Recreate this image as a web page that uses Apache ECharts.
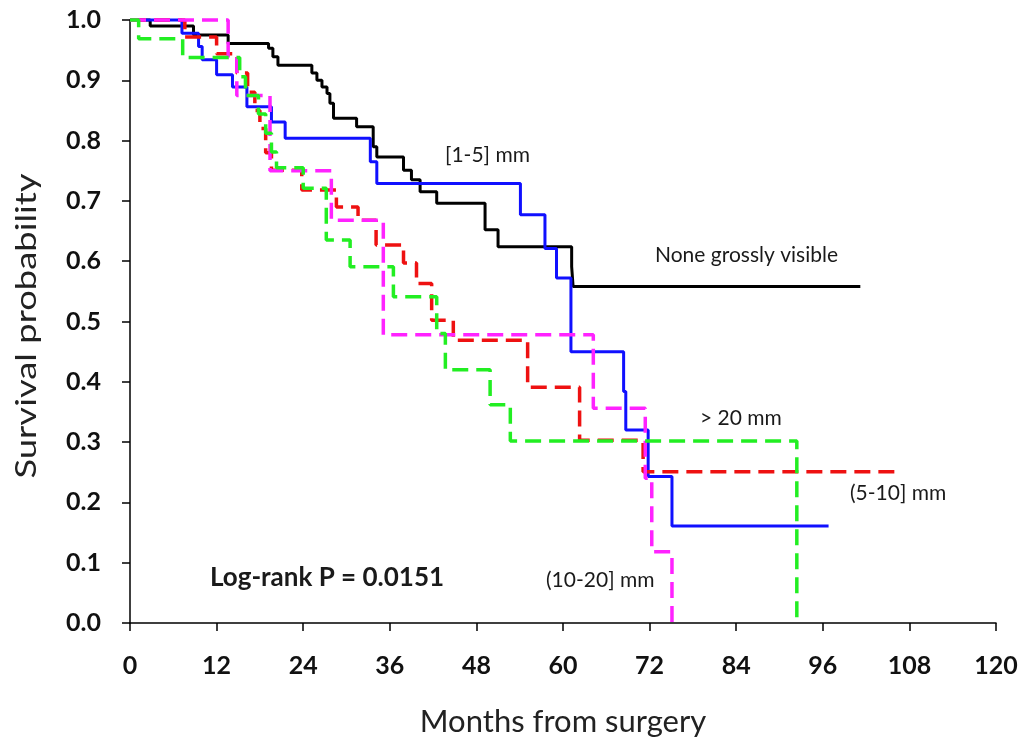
<!DOCTYPE html>
<html>
<head>
<meta charset="utf-8">
<script src="https://cdn.jsdelivr.net/npm/echarts@6/dist/echarts.min.js"></script>
<style>
    html, body { margin: 0; padding: 0; background: #fff; }
    #chart { width: 1024px; height: 747px; }
</style>
</head>
<body>
<div id="chart"></div>
<script>
// Kaplan-Meier steps: time (months) where survival drops, and new survival value
var noneMonths  = [0, 2.8, 8.8, 13.6, 19.2, 19.8, 20.5, 25.2, 25.9, 26.6, 27.3, 27.7, 28.2, 31.4, 33.7, 34.2, 37.9, 39.0, 40.2, 42.5, 49.2, 51.0, 61.2, 61.4, 101.2];
var noneSurv    = [1.0, 0.99, 0.975, 0.961, 0.953, 0.939, 0.925, 0.912, 0.9, 0.889, 0.878, 0.862, 0.837, 0.823, 0.79, 0.773, 0.751, 0.735, 0.715, 0.696, 0.652, 0.624, 0.591, 0.558, 0.558];

var mm1to5Months = [0, 7.2, 9.5, 10.0, 12.0, 14.2, 16.2, 19.6, 21.5, 33.3, 34.2, 54.1, 57.5, 59.1, 61.1, 68.4, 68.7, 71.8, 75.1, 96.8];
var mm1to5Surv   = [1.0, 0.978, 0.956, 0.934, 0.909, 0.889, 0.856, 0.831, 0.804, 0.765, 0.729, 0.677, 0.621, 0.572, 0.45, 0.384, 0.32, 0.243, 0.161, 0.161];

var mm5to10Months = [0, 7.6, 12.0, 14.8, 16.3, 17.3, 18.0, 18.8, 19.6, 23.8, 28.6, 31.6, 34.1, 37.9, 39.7, 41.8, 44.8, 55.1, 62.3, 71.1, 106.5];
var mm5to10Surv   = [1.0, 0.972, 0.944, 0.912, 0.88, 0.85, 0.82, 0.78, 0.751, 0.718, 0.69, 0.668, 0.627, 0.597, 0.563, 0.502, 0.469, 0.391, 0.303, 0.251, 0.251];

var mm10to20Months = [0, 13.6, 14.8, 19.4, 27.9, 35.1, 64.2, 71.4, 72.3, 75.1];
var mm10to20Surv   = [1.0, 0.938, 0.875, 0.75, 0.668, 0.478, 0.356, 0.24, 0.118, 0.0];

var over20Months = [0, 1.2, 7.3, 15.2, 16.0, 17.8, 18.8, 19.6, 20.3, 24.0, 27.2, 30.5, 36.5, 42.5, 43.7, 49.9, 52.7, 92.4];
var over20Surv   = [1.0, 0.969, 0.938, 0.906, 0.875, 0.844, 0.812, 0.781, 0.755, 0.721, 0.635, 0.591, 0.541, 0.48, 0.42, 0.362, 0.302, 0.0];

var FONT = 'Lato, "Open Sans", sans-serif';

function pairs(t, s) {
    var out = [];
    for (var i = 0; i < t.length; i++) out.push([t[i], s[i]]);
    return out;
}

function kmSeries(name, t, s, color, dashed) {
    return {
        name: name,
        type: 'line',
        step: 'end',
        symbol: 'none',
        clip: false,
        data: pairs(t, s),
        lineStyle: {
            color: color,
            width: dashed ? 3.5 : 3,
            type: dashed ? [16, 8] : 'solid'
        }
    };
}

// small helper for the text labels drawn next to the curves
function label(text, x, y, font) {
    return {
        type: 'text', x: x, y: y,
        style: {
            text: text, font: font, fill: '#1a1a1a',
            align: 'left', verticalAlign: 'middle',
            textAlign: 'left', textVerticalAlign: 'middle'
        }
    };
}

var myChart = echarts.init(document.getElementById('chart'));

var option = {
    backgroundColor: '#fff',
    animation: false,
    grid: { left: 130, right: 28, top: 20, bottom: 124 },
    xAxis: {
        type: 'value',
        min: 0, max: 120, interval: 12,
        name: 'Months from surgery',
        nameLocation: 'middle',
        nameGap: 83,
        nameTextStyle: { fontFamily: FONT, fontSize: 31, color: '#222' },
        axisLine: { lineStyle: { color: '#000', width: 1.5 } },
        axisTick: { show: true, length: 8, lineStyle: { color: '#000', width: 1.5 } },
        axisLabel: { fontFamily: FONT, fontSize: 25, fontWeight: 'bold', color: '#111', margin: 30 },
        splitLine: { show: false }
    },
    yAxis: {
        type: 'value',
        min: 0, max: 1, interval: 0.1,
        axisLine: { show: true, lineStyle: { color: '#000', width: 1.5 } },
        axisTick: { show: true, length: 8, lineStyle: { color: '#000', width: 1.5 } },
        axisLabel: {
            fontFamily: FONT, fontSize: 25, fontWeight: 'bold', color: '#111', margin: 29,
            formatter: function (v) { return v.toFixed(1); }
        },
        splitLine: { show: false }
    },
    series: [
        kmSeries('None grossly visible', noneMonths, noneSurv, '#000000', false),
        kmSeries('[1-5] mm', mm1to5Months, mm1to5Surv, '#1010ff', false),
        kmSeries('(5-10] mm', mm5to10Months, mm5to10Surv, '#ee1111', true),
        kmSeries('(10-20] mm', mm10to20Months, mm10to20Surv, '#ff22ff', true),
        kmSeries('> 20 mm', over20Months, over20Surv, '#22ee22', true)
    ],
    graphic: [
        // y axis title, stretched along its length like the original
        {
            type: 'text', x: 27, y: 326, rotation: Math.PI / 2, scaleX: 1.3,
            style: {
                text: 'Survival probability', font: '28px ' + FONT, fill: '#222',
                align: 'center', verticalAlign: 'middle',
                textAlign: 'center', textVerticalAlign: 'middle'
            }
        },
        label('[1-5] mm', 445, 155, '21px ' + FONT),
        label('None grossly visible', 655, 255, '21px ' + FONT),
        label('> 20 mm', 700, 418, '21px ' + FONT),
        label('(5-10] mm', 850, 493, '21px ' + FONT),
        label('(10-20] mm', 546, 580, '21px ' + FONT),
        label('Log-rank P = 0.0151', 210, 578, 'bold 26px ' + FONT)
    ]
};

myChart.setOption(option);
</script>
</body>
</html>
